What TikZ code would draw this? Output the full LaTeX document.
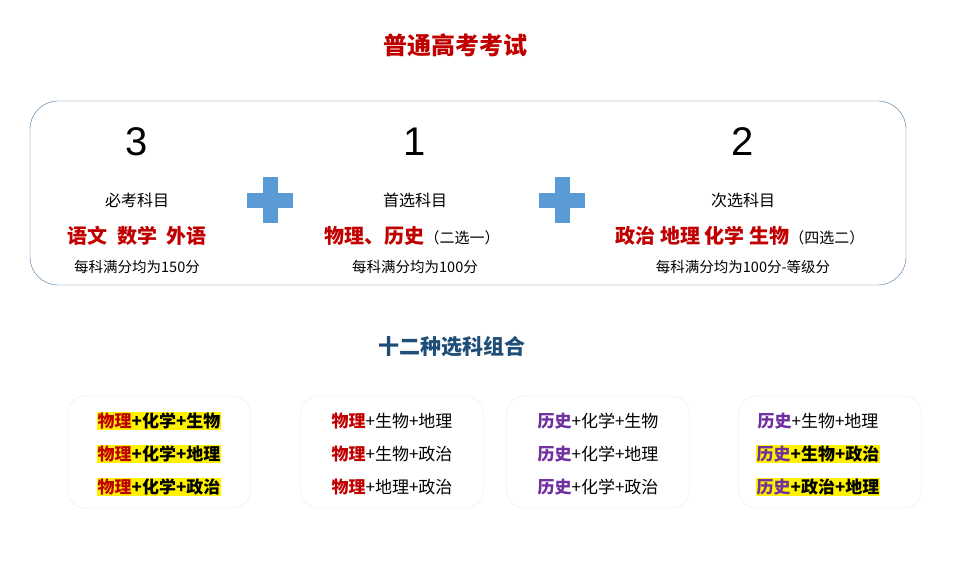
\documentclass[tikz,border=0pt]{standalone}
\usepackage{fontspec}
\setmainfont{Noto Sans CJK SC}
\newfontfamily\numfont{Liberation Sans}
\usepackage{xcolor}
\definecolor{cred}{HTML}{C00000}
\definecolor{cpurple}{HTML}{7030A0}
\definecolor{cplus}{HTML}{5B9BD5}
\definecolor{cframe}{HTML}{41719C}
\definecolor{ctitle}{HTML}{1F4E79}
\definecolor{cfaint}{HTML}{DEEBF7}

\begin{document}
\begin{tikzpicture}[x=1pt, y=-1pt,
    every node/.style={inner sep=1pt},
    bignum/.style={font=\fontsize{40}{40}\selectfont\numfont},
    kind/.style={font=\fontsize{16}{16}\selectfont},
    subj/.style={font=\fontsize{20}{20}\selectfont\bfseries, text=cred},
    score/.style={font=\fontsize{14.5}{14.5}\selectfont},
    combo/.style={font=\fontsize{17}{17}\selectfont},
    hi/.style={combo, fill=yellow, font=\fontsize{17}{17}\selectfont\bfseries},
    group/.style={draw=cfaint, rounded corners=18pt, minimum width=183pt, minimum height=112pt}]
    \useasboundingbox (0,0) rectangle (968,564);
    \node[font=\fontsize{24}{24}\selectfont\bfseries, text=cred] (title) at (455,45) {普通高考考试};
    \node[draw=cframe, rounded corners=28pt, minimum width=876pt, minimum height=184pt] (frame) at (468,193) {};

    \foreach \name/\x/\num/\kindtext in {must/137/3/必考科目, first/415/1/首选科目, second/743/2/次选科目} {
        \node[bignum] (\name-num) at (\x,142) {\num};
        \node[kind] (\name-kind) at (\x,200) {\kindtext};
    }
    \node[subj] (must-subj) at (137,236) {语文~~数学~~外语};
    \node[subj] (first-subj) at (412,236) {物理、历史{\mdseries\color{black}\fontsize{15}{15}\selectfont（二选一）}};
    \node[subj] (second-subj) at (740,236) {政治 地理 化学 生物{\mdseries\color{black}\fontsize{15}{15}\selectfont（四选二）}};
    \node[score] (must-score) at (137,267) {每科满分均为150分};
    \node[score] (first-score) at (415,267) {每科满分均为100分};
    \node[score] (second-score) at (743,267) {每科满分均为100分-等级分};

    \foreach \x/\name in {270/plusa, 562/plusb} {
        \fill[cplus] (\x-23,200-7.5) rectangle (\x+23,200+7.5);
        \fill[cplus] (\x-7.5,200-23) rectangle (\x+7.5,200+23);
        \coordinate (\name) at (\x,200);
    }

    \node[font=\fontsize{21}{21}\selectfont\bfseries, text=ctitle] (subtitle) at (452,347) {十二种选科组合};

    \foreach \name/\x in {ga/159, gb/392, gc/598, gd/830}
        \node[group] (\name) at (\x,452) {};

    \node[hi] (a1) at (159,421) {{\color{cred}物理}+化学+生物};
    \node[hi] (a2) at (159,454) {{\color{cred}物理}+化学+地理};
    \node[hi] (a3) at (159,487) {{\color{cred}物理}+化学+政治};
    \node[combo] (b1) at (392,421) {{\bfseries\color{cred}物理}+生物+地理};
    \node[combo] (b2) at (392,454) {{\bfseries\color{cred}物理}+生物+政治};
    \node[combo] (b3) at (392,487) {{\bfseries\color{cred}物理}+地理+政治};
    \node[combo] (c1) at (598,421) {{\bfseries\color{cpurple}历史}+化学+生物};
    \node[combo] (c2) at (598,454) {{\bfseries\color{cpurple}历史}+化学+地理};
    \node[combo] (c3) at (598,487) {{\bfseries\color{cpurple}历史}+化学+政治};
    \node[combo] (d1) at (818,421) {{\bfseries\color{cpurple}历史}+生物+地理};
    \node[hi] (d2) at (818,454) {{\color{cpurple}历史}+生物+政治};
    \node[hi] (d3) at (818,487) {{\color{cpurple}历史}+政治+地理};
\end{tikzpicture}
\end{document}
